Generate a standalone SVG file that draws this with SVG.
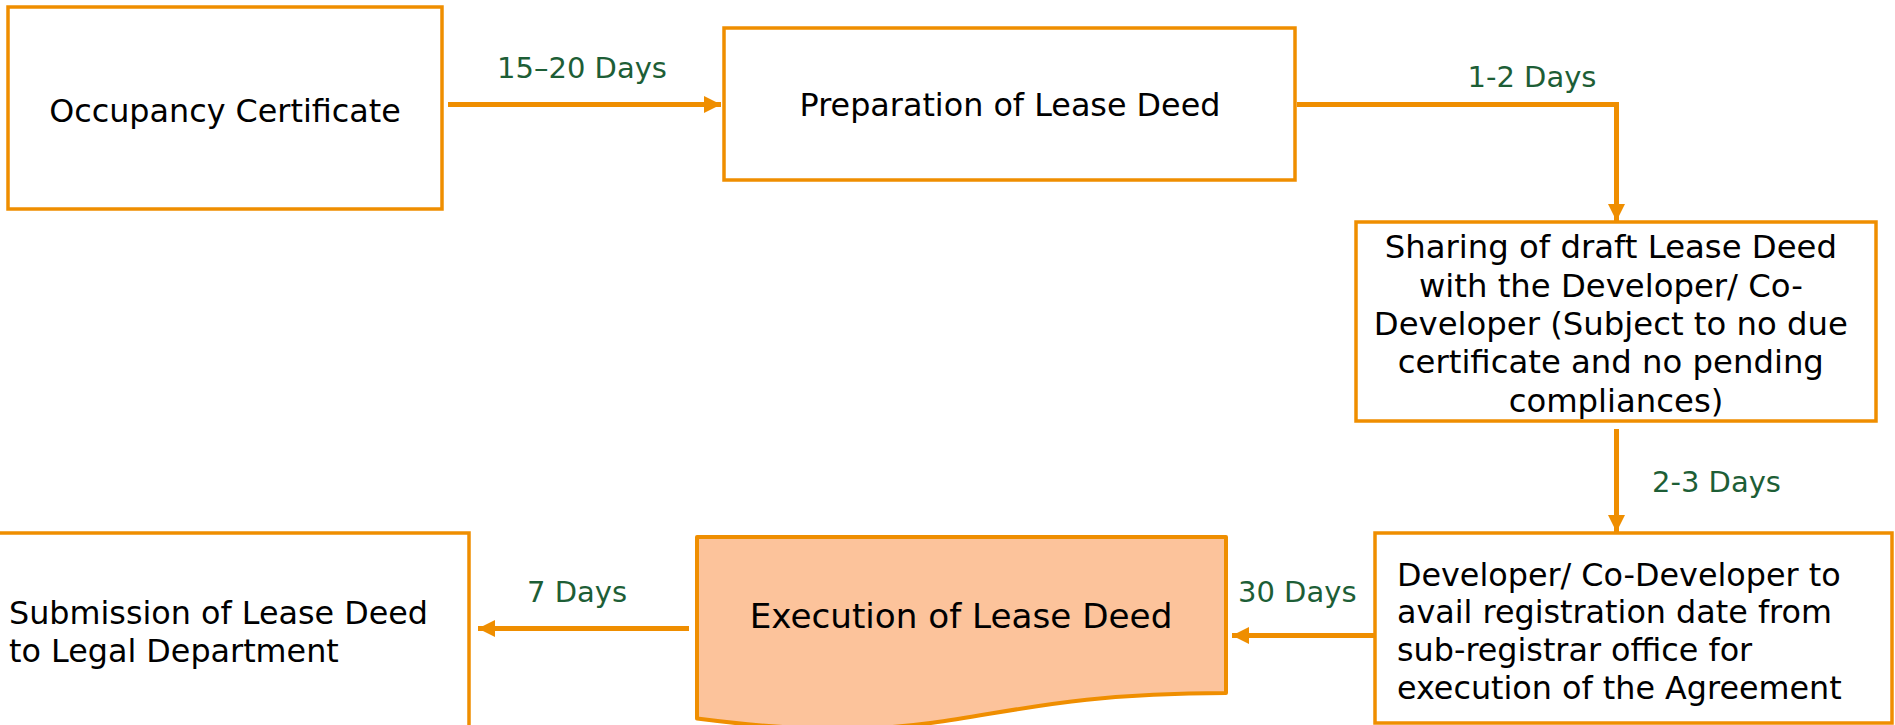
<svg xmlns="http://www.w3.org/2000/svg" width="1895" height="725" viewBox="0 0 1895 725">
  <defs>
    <style>
      .box { fill: #ffffff; stroke: #EF8E00; stroke-width: 3.5; }
      .doc { fill: #FCC39B; stroke: #EF8E00; stroke-width: 4; stroke-linejoin: round; }
      .txt { font-family: "DejaVu Sans", Verdana, sans-serif; fill: #000000; }
      .lbl { font-family: "DejaVu Sans", Verdana, sans-serif; font-size: 29px; fill: #1D5E36; }
      .con { fill: none; stroke: #EF8E00; stroke-width: 5; }
    </style>
    <marker id="arrow" viewBox="0 0 17 17" refX="17" refY="8.5" markerUnits="userSpaceOnUse" markerWidth="17" markerHeight="17" orient="auto">
      <path d="M0,0 L17,8.5 L0,17 Z" fill="#EF8E00"/>
    </marker>
  </defs>

  <!-- process steps -->
  <g id="occupancy-certificate">
    <rect class="box" x="8" y="7" width="434" height="202"/>
    <text class="txt" x="225" y="122" font-size="31.8" text-anchor="middle">Occupancy Certificate</text>
  </g>

  <g id="preparation">
    <rect class="box" x="724" y="28" width="571" height="152"/>
    <text class="txt" x="1010" y="116" font-size="31.8" text-anchor="middle">Preparation of Lease Deed</text>
  </g>

  <g id="sharing-draft">
    <rect class="box" x="1356" y="222" width="520" height="199"/>
    <text class="txt" font-size="32.3" text-anchor="middle">
      <tspan x="1616" y="258">Sharing of draft Lease Deed</tspan>
      <tspan x="1616" y="297">with the Developer/ Co-</tspan>
      <tspan x="1616" y="335">Developer (Subject to no due</tspan>
      <tspan x="1616" y="373">certificate and no pending</tspan>
      <tspan x="1616" y="412">compliances)</tspan>
    </text>
  </g>

  <g id="registration-date">
    <rect class="box" x="1375" y="533" width="517" height="190"/>
    <text class="txt" font-size="31.8">
      <tspan x="1397" y="586">Developer/ Co-Developer to</tspan>
      <tspan x="1397" y="623">avail registration date from</tspan>
      <tspan x="1397" y="661">sub-registrar office for</tspan>
      <tspan x="1397" y="699">execution of the Agreement</tspan>
    </text>
  </g>

  <g id="execution">
    <path class="doc" d="M697,537 H1226 V693 C961.5,693 961.5,752.4 697,718.6 Z"/>
    <text class="txt" x="961" y="628" font-size="34.2" text-anchor="middle">Execution of Lease Deed</text>
  </g>

  <g id="submission">
    <rect class="box" x="-10" y="533" width="479" height="230"/>
    <text class="txt" font-size="31.8">
      <tspan x="9" y="624">Submission of Lease Deed</tspan>
      <tspan x="9" y="662">to Legal Department</tspan>
    </text>
  </g>

  <!-- connectors with durations -->
  <g id="connectors">
    <line class="con" x1="448" y1="104.5" x2="721" y2="104.5" marker-end="url(#arrow)"/>
    <text class="lbl" x="582" y="78" text-anchor="middle">15–20 Days</text>

    <polyline class="con" points="1297,104.5 1616.5,104.5 1616.5,221" marker-end="url(#arrow)"/>
    <text class="lbl" x="1532" y="87" text-anchor="middle">1-2 Days</text>

    <line class="con" x1="1616.5" y1="429" x2="1616.5" y2="532" marker-end="url(#arrow)"/>
    <text class="lbl" x="1652" y="492">2-3 Days</text>

    <line class="con" x1="1374" y1="635.5" x2="1232" y2="635.5" marker-end="url(#arrow)"/>
    <text class="lbl" x="1238" y="602">30 Days</text>

    <line class="con" x1="689" y1="628.5" x2="478" y2="628.5" marker-end="url(#arrow)"/>
    <text class="lbl" x="527" y="602">7 Days</text>
  </g>
</svg>
